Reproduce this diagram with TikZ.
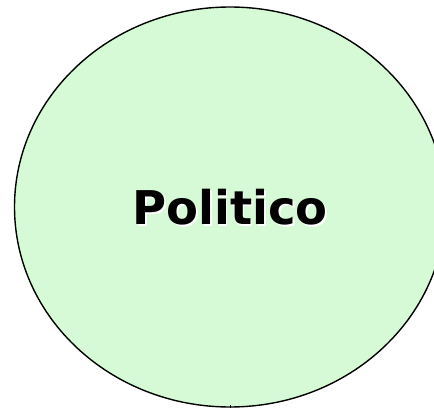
\documentclass[tikz,border=0pt]{standalone}
\usepackage{fontspec}
\setsansfont{DejaVu Sans}
\usetikzlibrary{shapes.geometric}
\definecolor{polgreen}{RGB}{213,250,213}
\begin{document}
\begin{tikzpicture}[x=1pt, y=-1pt]
    % Frame
    \clip (0,0) rectangle (434,409);
    % Ellipse
    \node[draw, ellipse, line width=1.4pt, fill=polgreen, minimum width=431pt, minimum height=400pt, inner sep=0pt] (pol) at (230,207) {};
    % Label with shadow
    \node[text=white, font=\sffamily\bfseries\fontsize{46.5}{50}\selectfont] (polshadow) at ([shift={(1.8,1.8)}]pol.center) {Politico};
    \node[text=black, font=\sffamily\bfseries\fontsize{46.5}{50}\selectfont] (poltext) at (pol.center) {Politico};
    % Stub
    \coordinate (stub) at ([yshift=3pt]pol.south);
    \draw[line width=1pt] (pol.south) -- (stub);
\end{tikzpicture}
\end{document}
